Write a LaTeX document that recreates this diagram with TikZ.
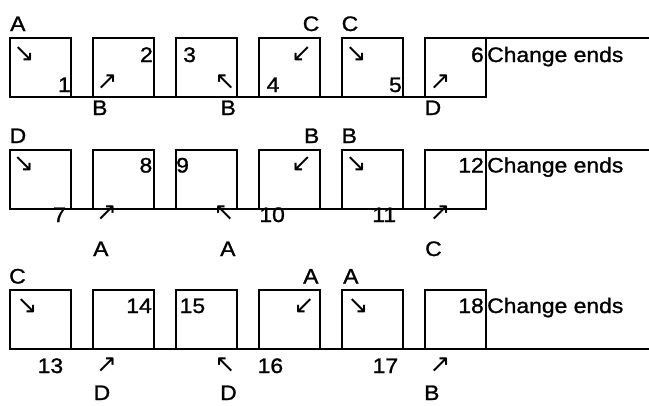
\documentclass[tikz,border=0pt]{standalone}
\usepackage{fontspec}
\setmainfont{Liberation Sans}[FakeStretch=1.09,FakeBold=1.2]
\newfontfamily\arrowfont{DejaVu Sans}
\begin{document}
\begin{tikzpicture}[x=1pt,y=-1pt,
  box/.style={draw, line width=1.9pt, minimum width=60.7pt, minimum height=59pt, inner sep=0pt, outer sep=0pt, anchor=north west},
  edge/.style={line width=1.9pt},
  lbl/.style={inner sep=0pt, font=\fontsize{21}{21}\selectfont},
  arr/.style={inner sep=0pt, font=\arrowfont\fontsize{25}{25}\selectfont},
]
\useasboundingbox (0,0) rectangle (649,405);
% boxes
\foreach \r/\t in {1/38,2/150,3/290}{
  \foreach \i in {1,...,6}{
    \node[box] (r\r b\i) at ({10+83.06*(\i-1)},\t) {};
  }
}
% row lines
\coordinate (r1e) at (649,38);
\coordinate (r2e) at (649,150);
\coordinate (r3e) at (649,349);
\draw[edge] (r1b1.south west) -- (r1b6.south east);
\draw[edge] (r1b6.north east) -- (r1e);
\draw[edge] (r2b1.south west) -- (r2b6.south east);
\draw[edge] (r2b6.north east) -- (r2e);
\draw[edge] (r3b1.south west) -- (r3e);

% ---------- row 1
\node[lbl, anchor=base west] (l1a) at (10,31) {A};
\node[lbl, anchor=base east] (l1c) at (319.5,31) {C};
\node[lbl, anchor=base west] (l1c2) at (341.5,31) {C};
\node[lbl, anchor=base west] (l1b) at (92,115) {B};
\node[lbl, anchor=base east] (l1b2) at (236,115) {B};
\node[lbl, anchor=base west] (l1d) at (424.5,115) {D};
\node[lbl, anchor=base east] (n1) at (71,92) {1};
\node[lbl, anchor=base east] (n2) at (153,62) {2};
\node[lbl, anchor=base west] (n3) at (183,62) {3};
\node[lbl, anchor=base west] (n4) at (266.5,92) {4};
\node[lbl, anchor=base east] (n5) at (402,92) {5};
\node[lbl, anchor=base east] (n6) at (484,62) {6};
\node[lbl, anchor=base west] (ce1) at (487,62) {Change ends};
\node[arr] (a11) at (24,54) {↘};
\node[arr] (a12) at (107,82) {↗};
\node[arr] (a13) at (225,82) {↖};
\node[arr] (a14) at (301.5,54) {↙};
\node[arr] (a15) at (356,54) {↘};
\node[arr] (a16) at (440,82) {↗};

% ---------- row 2
\node[lbl, anchor=base west] (l2d) at (9.5,143) {D};
\node[lbl, anchor=base east] (l2b) at (319.5,143) {B};
\node[lbl, anchor=base west] (l2b2) at (341.5,143) {B};
\node[lbl, anchor=base west] (l2a) at (93,256) {A};
\node[lbl, anchor=base west] (l2a2) at (220,256) {A};
\node[lbl, anchor=base west] (l2c) at (425,256) {C};
\node[lbl, anchor=base east] (n7) at (66,222) {7};
\node[lbl, anchor=base east] (n8) at (152.5,172.5) {8};
\node[lbl, anchor=base west] (n9) at (176,172.5) {9};
\node[lbl, anchor=base west] (n10) at (259.2,222) {10};
\node[lbl, anchor=base east] (n11) at (396.3,222) {11};
\node[lbl, anchor=base east] (n12) at (484,172.5) {12};
\node[lbl, anchor=base west] (ce2) at (487,172.5) {Change ends};
\node[arr] (a21) at (23.5,164.5) {↘};
\node[arr] (a22) at (106.5,213) {↗};
\node[arr] (a23) at (224,213) {↖};
\node[arr] (a24) at (301.5,164.5) {↙};
\node[arr] (a25) at (356,164.5) {↘};
\node[arr] (a26) at (440,213) {↗};

% ---------- row 3
\node[lbl, anchor=base west] (l3c) at (9,283.5) {C};
\node[lbl, anchor=base west] (l3a) at (303,283.5) {A};
\node[lbl, anchor=base west] (l3a2) at (343,283.5) {A};
\node[lbl, anchor=base west] (l3d) at (93.5,400) {D};
\node[lbl, anchor=base west] (l3d2) at (220,400) {D};
\node[lbl, anchor=base west] (l3b) at (424,400) {B};
\node[lbl, anchor=base west] (n13) at (37.5,373) {13};
\node[lbl, anchor=base east] (n14) at (152,313) {14};
\node[lbl, anchor=base west] (n15) at (179.5,313) {15};
\node[lbl, anchor=base west] (n16) at (257.5,373) {16};
\node[lbl, anchor=base west] (n17) at (372.5,373) {17};
\node[lbl, anchor=base east] (n18) at (484,313) {18};
\node[lbl, anchor=base west] (ce3) at (487,313) {Change ends};
\node[arr] (a31) at (27,306) {↘};
\node[arr] (a32) at (106.5,365.5) {↗};
\node[arr] (a33) at (225,365.5) {↖};
\node[arr] (a34) at (304,306) {↙};
\node[arr] (a35) at (358,306) {↘};
\node[arr] (a36) at (440,365.5) {↗};
\end{tikzpicture}
\end{document}
